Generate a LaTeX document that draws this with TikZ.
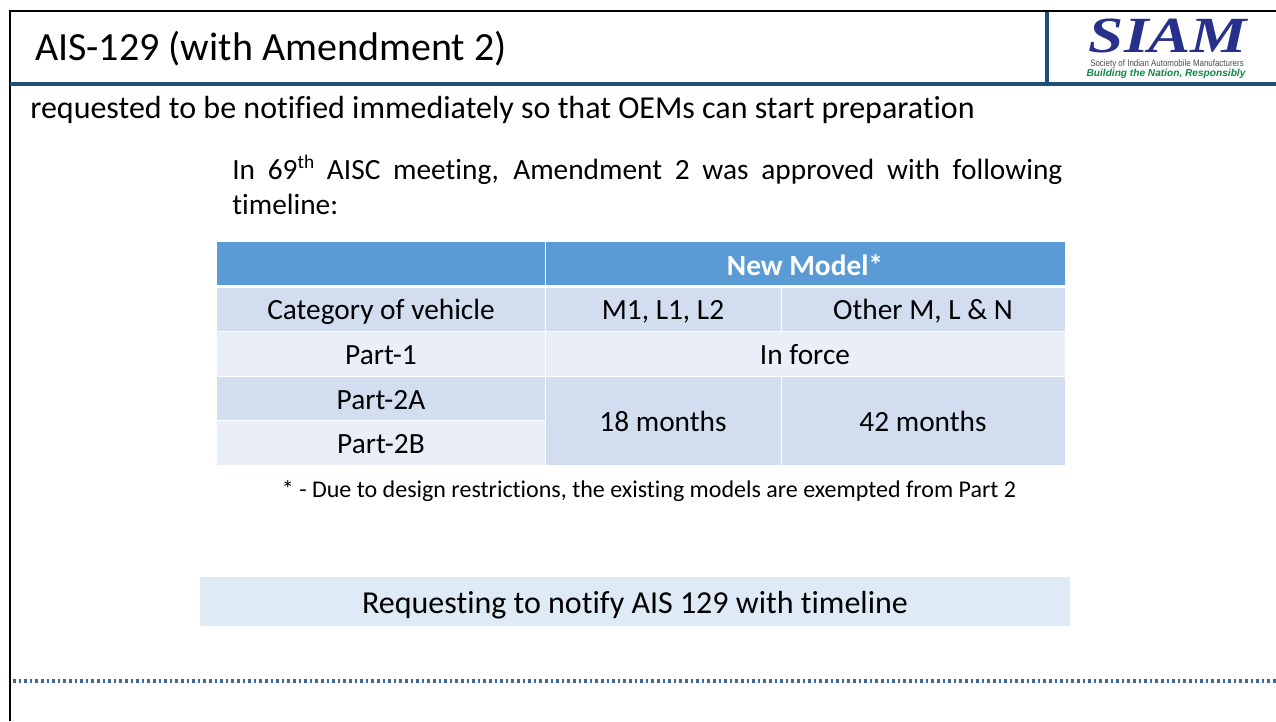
\documentclass[tikz,border=0pt]{standalone}
\usepackage{fontspec}
\setmainfont[Ligatures={NoCommon}]{Carlito}
\newfontfamily\serifb{Liberation Serif}
\newfontfamily\helv{Liberation Sans}
\definecolor{hdr}{HTML}{5B9BD5}
\definecolor{rowa}{HTML}{D2DEEF}
\definecolor{rowb}{HTML}{EAEFF7}
\definecolor{band}{HTML}{DEEAF6}
\definecolor{rulecol}{HTML}{1F4E79}
\definecolor{navy}{HTML}{27308A}
\definecolor{logogreen}{HTML}{0E8A4A}
\newcommand{\fs}[1]{\fontsize{#1}{#1}\selectfont}
\newcommand{\supth}[1]{\raisebox{0.36em}{\fontsize{14.5}{15}\selectfont #1}}
\tikzset{
  x=0.75pt,y=-0.75pt,
  cell/.style={anchor=base,inner sep=0pt,font=\fs{22},text=black},
  tbl/.style={fill=#1,draw=none},
}
\begin{document}
\begin{tikzpicture}
\useasboundingbox (0,0) rectangle (1276,721);
\fill[white] (0,0) rectangle (1276,721);
% frame
\draw[black,line width=1.8pt] (10,721) -- (10,11) -- (1276,11);
\draw[rulecol,line width=3pt] (10,84) -- (1276,84);
\draw[rulecol,line width=2.4pt] (1047,12) -- (1047,84);
\draw[rulecol!85,line width=2.6pt,dash pattern=on 2pt off 2.2pt] (13,681) -- (1276,681);
% title
\node[anchor=base west,inner sep=0pt,font=\fs{30}] (title) at (35,60) {AIS-129 (with Amendment 2)};
\node[anchor=base west,inner sep=0pt,font=\fs{24}] (req) at (30,118) {requested to be notified immediately so that OEMs can start preparation};
% logo
\node[anchor=base,inner sep=0pt,font=\serifb\bfseries\itshape\fs{38},text=navy,xscale=1.25] (siam) at (1168,52) {SIAM};
\node[anchor=base,inner sep=0pt,font=\helv\fs{7},text=black!70,xscale=0.85] (soc) at (1167,66) {Society of Indian Automobile Manufacturers};
\node[anchor=base,inner sep=0pt,font=\helv\bfseries\itshape\fs{7.6},text=logogreen] (bld) at (1166,76) {Building the Nation, Responsibly};
% paragraph
\node[anchor=base west,inner sep=0pt,font=\fs{22}] (p1) at (232,179) {\makebox[622.5pt][s]{In 69\supth{th} AISC meeting, Amendment 2 was approved with following}};
\node[anchor=base west,inner sep=0pt,font=\fs{22}] (p2) at (232,214) {timeline:};
% table
\fill[tbl=hdr] (217,242) rectangle (545,285);
\fill[tbl=hdr] (546,242) rectangle (1064.5,285);
\fill[tbl=rowa] (217,288) rectangle (545,331);
\fill[tbl=rowa] (546,288) rectangle (781,331);
\fill[tbl=rowa] (782,288) rectangle (1064.5,331);
\fill[tbl=rowb] (217,332) rectangle (545,376);
\fill[tbl=rowb] (546,332) rectangle (1064.5,376);
\fill[tbl=rowa] (217,377) rectangle (545,420);
\fill[tbl=rowb] (217,421) rectangle (545,465);
\fill[tbl=rowa] (546,377) rectangle (781,465);
\fill[tbl=rowa] (782,377) rectangle (1064.5,465);
\node[cell,font=\bfseries\fs{22},text=white] (h) at (805,275) {New Model*};
\node[cell] (c1) at (381,319) {Category of vehicle};
\node[cell] (c2) at (663,319) {M1, L1, L2};
\node[cell] (c3) at (923,319) {Other M, L \& N};
\node[cell] (r1) at (381,364) {Part-1};
\node[cell] (r1b) at (805,364) {In force};
\node[cell] (r2) at (381,409) {Part-2A};
\node[cell] (r3) at (381,453) {Part-2B};
\node[cell] (m1) at (663,431) {18 months};
\node[cell] (m2) at (923,431) {42 months};
% footnote
\node[anchor=base,inner sep=0pt,font=\fs{18}] (fn) at (649,497) {* - Due to design restrictions, the existing models are exempted from Part 2};
% band
\node[anchor=north west,inner sep=0pt,fill=band,minimum width=652.5pt,minimum height=36.75pt] (bandbox) at (200,577) {};
\node[anchor=base,inner sep=0pt,font=\fs{24}] (bt) at (635,613) {Requesting to notify AIS 129 with timeline};
\end{tikzpicture}
\end{document}
